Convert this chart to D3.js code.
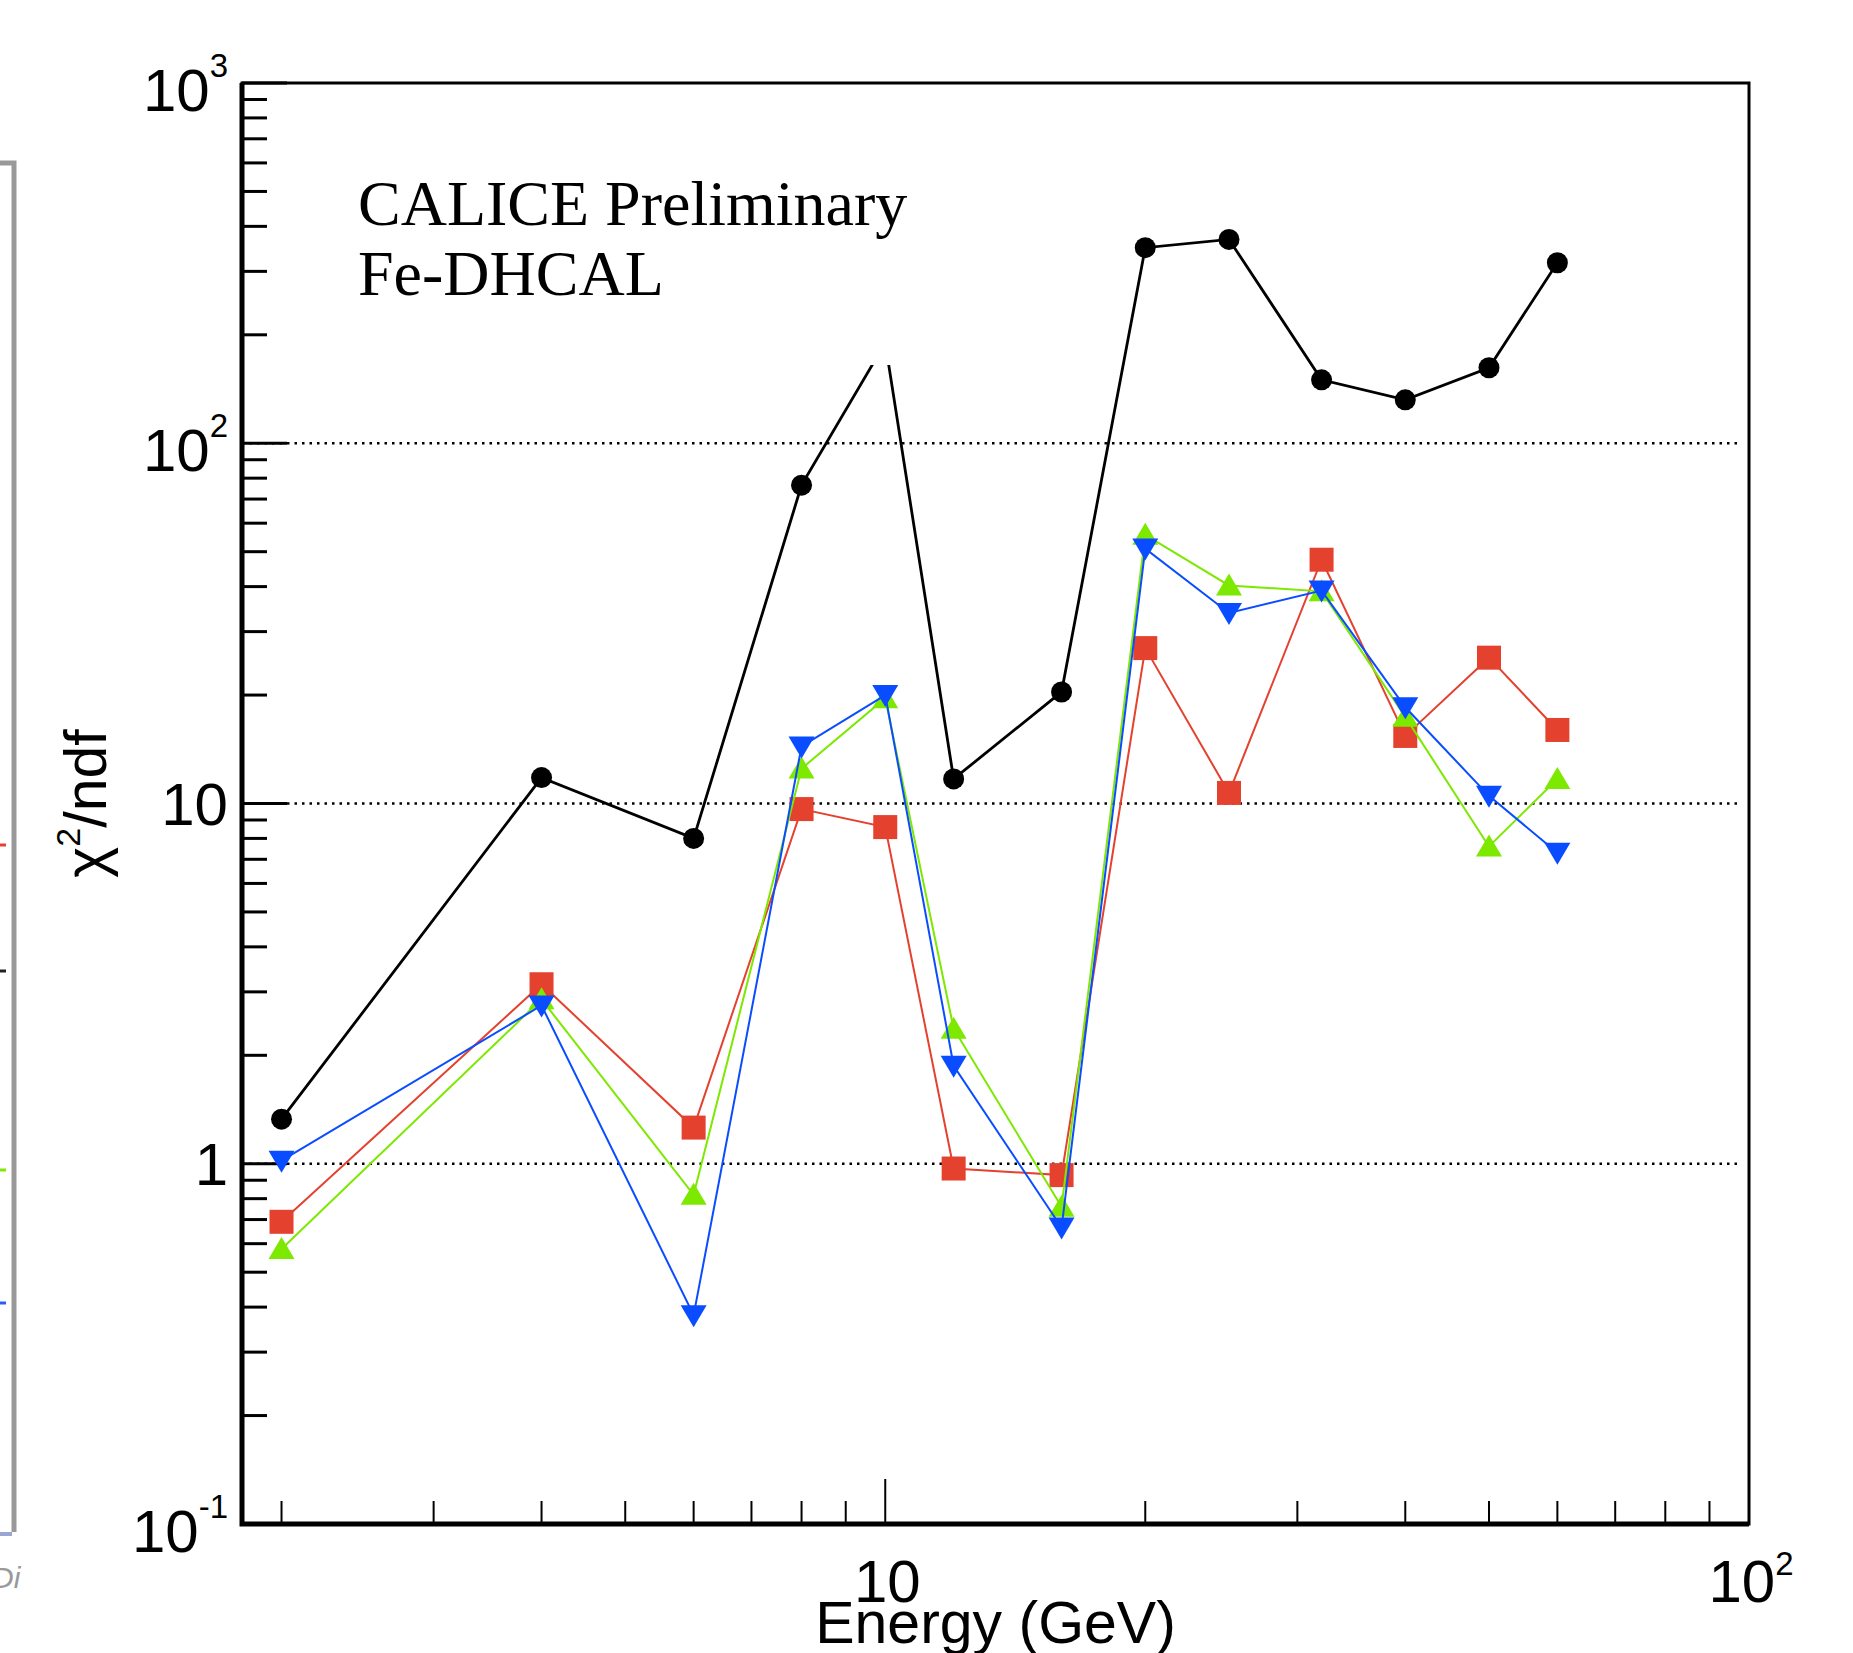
<!DOCTYPE html>
<html>
<head>
<meta charset="utf-8">
<script src="https://cdn.jsdelivr.net/npm/d3@7"></script>
<style>
  html, body { margin: 0; padding: 0; background: #fff; }
  svg { display: block; }
</style>
</head>
<body>
<script>
// Beam energies (GeV) and chi2/ndf per configuration
const energies = [2, 4, 6, 8, 10, 12, 16, 20, 25, 32, 40, 50, 60]
const chi2Black = [1.33, 11.8, 8.0, 76.5, 190, 11.7, 20.4, 349, 368, 150, 132, 162, 317]
const chi2Red = [0.69, 3.15, 1.26, 9.65, 8.6, 0.97, 0.93, 27, 10.7, 47.5, 15.4, 25.4, 16.0]
const chi2Green = [0.58, 2.86, 0.82, 12.5, 19.6, 2.37, 0.76, 55.7, 40.3, 38.8, 17.4, 7.6, 11.7]
const chi2Blue = [1.02, 2.75, 0.38, 14.4, 20.0, 1.87, 0.665, 51, 33.8, 39, 18.5, 10.5, 7.3]

const yTicks = [0.1, 1, 10, 100, 1000]
const yTickLabels = [["10", "-1"], ["1", ""], ["10", ""], ["10", "2"], ["10", "3"]]
const xTicks = [10, 100]
const xTickLabels = [["10", ""], ["10", "2"]]
const gridValues = [1, 10, 100]
const paveLines = ["CALICE Preliminary", "Fe-DHCAL"]

const W = 1853, H = 1653
const frame = { left: 242, right: 1749, top: 83, bottom: 1524 }

const svg = d3.select("body").append("svg")
  .attr("width", W)
  .attr("height", H)

const x = d3.scaleLog().domain([1.8, 100]).range([frame.left, frame.right])
const y = d3.scaleLog().domain([0.1, 1000]).range([frame.bottom, frame.top])

// --- cropped neighbour panel on the far left (only its edge is visible)
svg.append("path")
  .attr("d", `M0,163 L14,163 L14,1532`)
  .attr("fill", "none")
  .attr("stroke", "#999")
  .attr("stroke-width", 5)
const stubs = [[845, "#e4412f"], [971, "#222"], [1170, "#7de800"], [1303, "#2b5cff"]]
stubs.forEach(([yy, c]) => {
  svg.append("line").attr("x1", 0).attr("x2", 6).attr("y1", yy).attr("y2", yy)
    .attr("stroke", c).attr("stroke-width", 3)
})
svg.append("line").attr("x1", 0).attr("x2", 12).attr("y1", 1534).attr("y2", 1534)
  .attr("stroke", "#5a6ab8").attr("stroke-width", 4).attr("opacity", 0.6)
svg.append("text")
  .attr("x", -8).attr("y", 1588)
  .attr("font-family", "Liberation Sans, Arial, sans-serif")
  .attr("font-style", "italic")
  .attr("font-size", 30)
  .attr("fill", "#999")
  .text("Di")

// --- grid (dotted, only at 1, 10, 100)
svg.append("g").selectAll("line")
  .data(gridValues)
  .join("line")
  .attr("x1", frame.left)
  .attr("x2", frame.right - 8)
  .attr("y1", (d) => y(d))
  .attr("y2", (d) => y(d))
  .attr("stroke", "#000")
  .attr("stroke-width", 2.4)
  .attr("stroke-dasharray", "2.5,5")

// --- y ticks: majors at decades, minors at 2..9
const yMinor = []
for (let e = -1; e < 3; e++) {
  for (let m = 2; m <= 9; m++) yMinor.push(m * Math.pow(10, e))
}
svg.append("g").selectAll("line")
  .data(yMinor)
  .join("line")
  .attr("x1", frame.left).attr("x2", frame.left + 25)
  .attr("y1", (d) => y(d)).attr("y2", (d) => y(d))
  .attr("stroke", "#000").attr("stroke-width", 3)
svg.append("g").selectAll("line")
  .data(yTicks)
  .join("line")
  .attr("x1", frame.left).attr("x2", frame.left + 45)
  .attr("y1", (d) => y(d)).attr("y2", (d) => y(d))
  .attr("stroke", "#000").attr("stroke-width", 3)

// --- x ticks
const xMinor = [2, 3, 4, 5, 6, 7, 8, 9, 20, 30, 40, 50, 60, 70, 80, 90]
svg.append("g").selectAll("line")
  .data(xMinor)
  .join("line")
  .attr("x1", (d) => x(d)).attr("x2", (d) => x(d))
  .attr("y1", frame.bottom).attr("y2", frame.bottom - 23)
  .attr("stroke", "#000").attr("stroke-width", 2)
svg.append("g").selectAll("line")
  .data(xTicks)
  .join("line")
  .attr("x1", (d) => x(d)).attr("x2", (d) => x(d))
  .attr("y1", frame.bottom).attr("y2", frame.bottom - 45)
  .attr("stroke", "#000").attr("stroke-width", 2)

// --- frame
svg.append("rect")
  .attr("x", frame.left).attr("y", frame.top)
  .attr("width", frame.right - frame.left)
  .attr("height", frame.bottom - frame.top)
  .attr("fill", "none").attr("stroke", "#000").attr("stroke-width", 3)
svg.append("path")
  .attr("d", `M${frame.left},${frame.top} L${frame.left},${frame.bottom} L${frame.right},${frame.bottom}`)
  .attr("fill", "none").attr("stroke", "#000").attr("stroke-width", 5)

// --- tick labels
const labelFont = "Liberation Sans, Arial, Helvetica, sans-serif"
const yLab = svg.append("g")
  .attr("font-family", labelFont)
  .attr("font-size", 60)
  .attr("text-anchor", "end")
yTicks.forEach((v, i) => {
  const [base, sup] = yTickLabels[i]
  const t = yLab.append("text")
    .attr("x", 228)
    .attr("y", y(v) + (sup ? 28 : 21.5))
  t.append("tspan").text(base)
  if (sup) t.append("tspan").attr("font-size", 33).attr("dy", -34).text(sup)
})
const xLab = svg.append("g")
  .attr("font-family", labelFont)
  .attr("font-size", 60)
  .attr("text-anchor", "middle")
xTicks.forEach((v, i) => {
  const [base, sup] = xTickLabels[i]
  const t = xLab.append("text")
    .attr("x", x(v) + 2)
    .attr("y", 1602)
  t.append("tspan").text(base)
  if (sup) t.append("tspan").attr("font-size", 33).attr("dy", -27).text(sup)
})

// --- axis titles
svg.append("text")
  .attr("x", (frame.left + frame.right) / 2)
  .attr("y", 1643)
  .attr("text-anchor", "middle")
  .attr("font-family", labelFont)
  .attr("font-size", 59)
  .text("Energy (GeV)")
const yTitle = svg.append("text")
  .attr("transform", `translate(106,${(frame.top + frame.bottom) / 2}) rotate(-90)`)
  .attr("text-anchor", "middle")
  .attr("font-family", labelFont)
  .attr("font-size", 59)
yTitle.append("tspan").text("χ")
yTitle.append("tspan").attr("font-size", 34).attr("dy", -26).text("2")
yTitle.append("tspan").attr("dy", 26).text("/ndf")

// --- graphs
const series = [
  { values: chi2Black, color: "#000", width: 2.8, marker: "circle" },
  { values: chi2Red, color: "#e4412f", width: 2, marker: "square" },
  { values: chi2Green, color: "#7de800", width: 2, marker: "up" },
  { values: chi2Blue, color: "#0a4cff", width: 2, marker: "down" },
]
const line = d3.line()
  .x((d) => x(d[0]))
  .y((d) => y(d[1]))

const symbols = {
  circle: d3.symbol().type(d3.symbolCircle).size(Math.PI * 10.5 * 10.5),
  square: d3.symbol().type(d3.symbolSquare).size(24 * 24),
}
const triUp = "M0,-12 L13,10 L-13,10 Z"
const triDown = "M0,12 L13,-10 L-13,-10 Z"

series.forEach((s) => {
  const pts = energies.map((e, i) => [e, s.values[i]])
  const g = svg.append("g")
  g.append("path")
    .datum(pts)
    .attr("d", line)
    .attr("fill", "none")
    .attr("stroke", s.color)
    .attr("stroke-width", s.width)
  g.selectAll("path.mk")
    .data(pts)
    .join("path")
    .attr("class", "mk")
    .attr("transform", (d) => `translate(${x(d[0])},${y(d[1])})`)
    .attr("d", s.marker === "up" ? triUp : s.marker === "down" ? triDown : symbols[s.marker]())
    .attr("fill", s.color)
})

// --- text pave (white box, drawn over the graphs like ROOT does)
svg.append("rect")
  .attr("x", 330).attr("y", 140)
  .attr("width", 680).attr("height", 225)
  .attr("fill", "#fff")
const pave = svg.append("g")
  .attr("font-family", "Liberation Serif, Times New Roman, serif")
  .attr("font-size", 64)
paveLines.forEach((txt, i) => {
  pave.append("text")
    .attr("x", 358)
    .attr("y", 225 + i * 70)
    .text(txt)
})
</script>
</body>
</html>
